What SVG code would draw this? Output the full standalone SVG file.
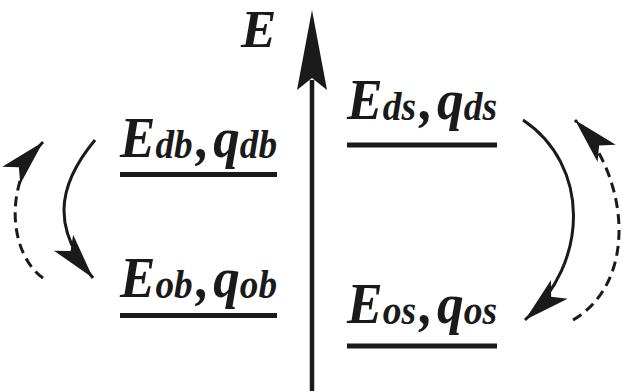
<svg xmlns="http://www.w3.org/2000/svg" width="623" height="391" viewBox="0 0 623 391">
<style>
  .t { font-family: "Liberation Serif", "Times New Roman", serif; font-weight: bold; font-style: italic; font-size: 57px; fill: #1a1a1a; }
  .s { font-size: 40px; }
  .lvl { stroke: #1a1a1a; stroke-width: 5; }
  .arc { fill: none; stroke: #1a1a1a; stroke-width: 3; }
  .dash { stroke-dasharray: 10 6; }
</style>
<defs>
  <marker id="head" markerUnits="userSpaceOnUse" orient="auto" refX="0" refY="0" markerWidth="60" markerHeight="30" overflow="visible">
    <path d="M0,0 L-46,-12.5 L-35,0 L-46,12.5 Z" fill="#1a1a1a" stroke="none"/>
  </marker>
</defs>
<g id="axis">
  <line x1="312" y1="391" x2="312" y2="80" stroke="#1a1a1a" stroke-width="4.5"/>
  <polygon points="312,10 327,90 312,78 297,90" fill="#1a1a1a"/>
  <text class="t" x="241" y="47" style="font-size:53px">E</text>
</g>
<g id="level-db">
  <text class="t" x="120" y="157" textLength="157" lengthAdjust="spacingAndGlyphs">E<tspan class="s" dy="1">db</tspan><tspan dy="-1" dx="4">,</tspan><tspan dx="4">q</tspan><tspan class="s" dy="1">db</tspan></text>
  <line class="lvl" x1="120" y1="174.5" x2="277" y2="174.5"/>
</g>
<g id="level-ob">
  <text class="t" x="120" y="297" textLength="157" lengthAdjust="spacingAndGlyphs">E<tspan class="s" dy="1">ob</tspan><tspan dy="-1" dx="4">,</tspan><tspan dx="4">q</tspan><tspan class="s" dy="1">ob</tspan></text>
  <line class="lvl" x1="120" y1="315.5" x2="277" y2="315.5"/>
</g>
<g id="level-ds">
  <text class="t" x="347" y="119" textLength="150" lengthAdjust="spacingAndGlyphs">E<tspan class="s" dy="1">ds</tspan><tspan dy="-1" dx="4">,</tspan><tspan dx="4">q</tspan><tspan class="s" dy="1">ds</tspan></text>
  <line class="lvl" x1="347" y1="145" x2="497" y2="145"/>
</g>
<g id="level-os">
  <text class="t" x="347" y="323" textLength="150" lengthAdjust="spacingAndGlyphs">E<tspan class="s" dy="1">os</tspan><tspan dy="-1" dx="4">,</tspan><tspan dx="4">q</tspan><tspan class="s" dy="1">os</tspan></text>
  <line class="lvl" x1="347" y1="346" x2="497" y2="346"/>
</g>
<g id="connectors">
  <path class="arc" d="M95,140 C55,188 53,230 93,278" marker-end="url(#head)"/>
  <path class="arc dash" d="M43,278 C10,255 2,185 43,142" marker-end="url(#head)"/>
  <path class="arc" d="M523,120 C590,165 590,262 525,320" marker-end="url(#head)"/>
  <path class="arc dash" d="M573,320 C638,282 630,178 575,120" marker-end="url(#head)"/>
</g>
</svg>
